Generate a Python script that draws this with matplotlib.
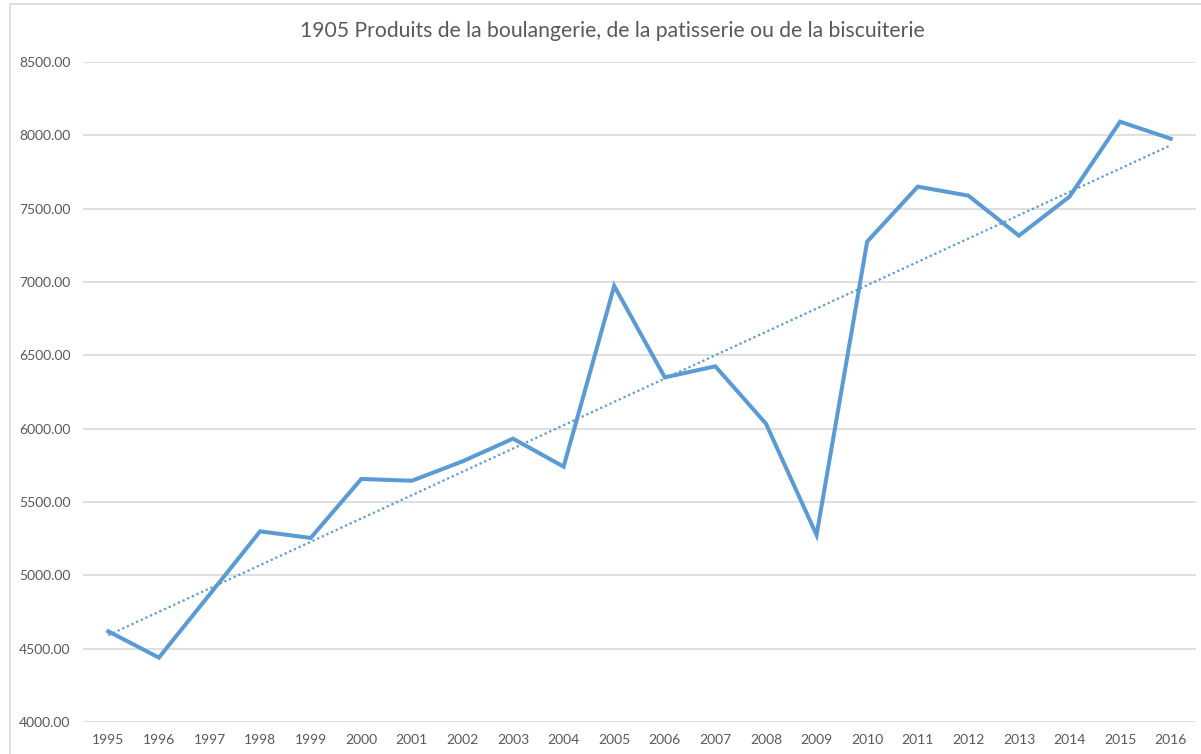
import numpy as np
import matplotlib.pyplot as plt
from matplotlib.lines import Line2D

years = [str(y) for y in range(1995, 2017)]
values = [4618, 4439, 4868, 5300, 5255, 5657, 5645, 5777, 5932, 5741, 6973,
          6350, 6425, 6034, 5275, 7275, 7650, 7589, 7316, 7582, 8093, 7977]
title = '1905 Produits de la boulangerie, de la patisserie ou de la biscuiterie'

blue = '#5B9BD5'
grey = '#595959'

plt.rcParams['font.family'] = ['Lato', 'DejaVu Sans']

fig = plt.figure(figsize=(12.01, 7.54), dpi=100)
ax = fig.add_axes([83 / 1201, 1 - 722 / 754, (1196 - 83) / 1201, (722 - 62) / 754])

x = np.arange(len(years))
ax.plot(x, values, color=blue, lw=2.9, solid_joinstyle='miter', zorder=3)

# linear trendline
k, b = np.polyfit(x, values, 1)
ax.plot(x, k * x + b, color=blue, lw=1.6, ls=(0, (1, 1.3)), zorder=3)

ax.set_xlim(-0.5, len(years) - 0.5)
ax.set_ylim(4000, 8500)
ax.set_yticks(np.arange(4000, 8501, 500))
ax.set_yticklabels(['{:.2f}'.format(v) for v in np.arange(4000, 8501, 500)])
ax.set_xticks(x)
ax.set_xticklabels(years)
ax.grid(axis='y', color='#D9D9D9', lw=1.2)
ax.set_axisbelow(True)
for s in ax.spines.values():
    s.set_visible(False)
ax.tick_params(length=0, labelsize=10, colors=grey)
ax.tick_params(axis='y', pad=9)
ax.tick_params(axis='x', pad=9)

fig.text(612 / 1201, 1 - 31 / 754, title, ha='center', va='center',
         fontsize=15.2, color=grey)

# chart border (left and top)
fig.add_artist(Line2D([10 / 1201, 10 / 1201], [0, 1 - 4 / 754],
                      transform=fig.transFigure, color='#D9D9D9', lw=1.2))
fig.add_artist(Line2D([10 / 1201, 1], [1 - 4 / 754, 1 - 4 / 754],
                      transform=fig.transFigure, color='#D9D9D9', lw=1.2))

fig.savefig('out.png', dpi=100)
